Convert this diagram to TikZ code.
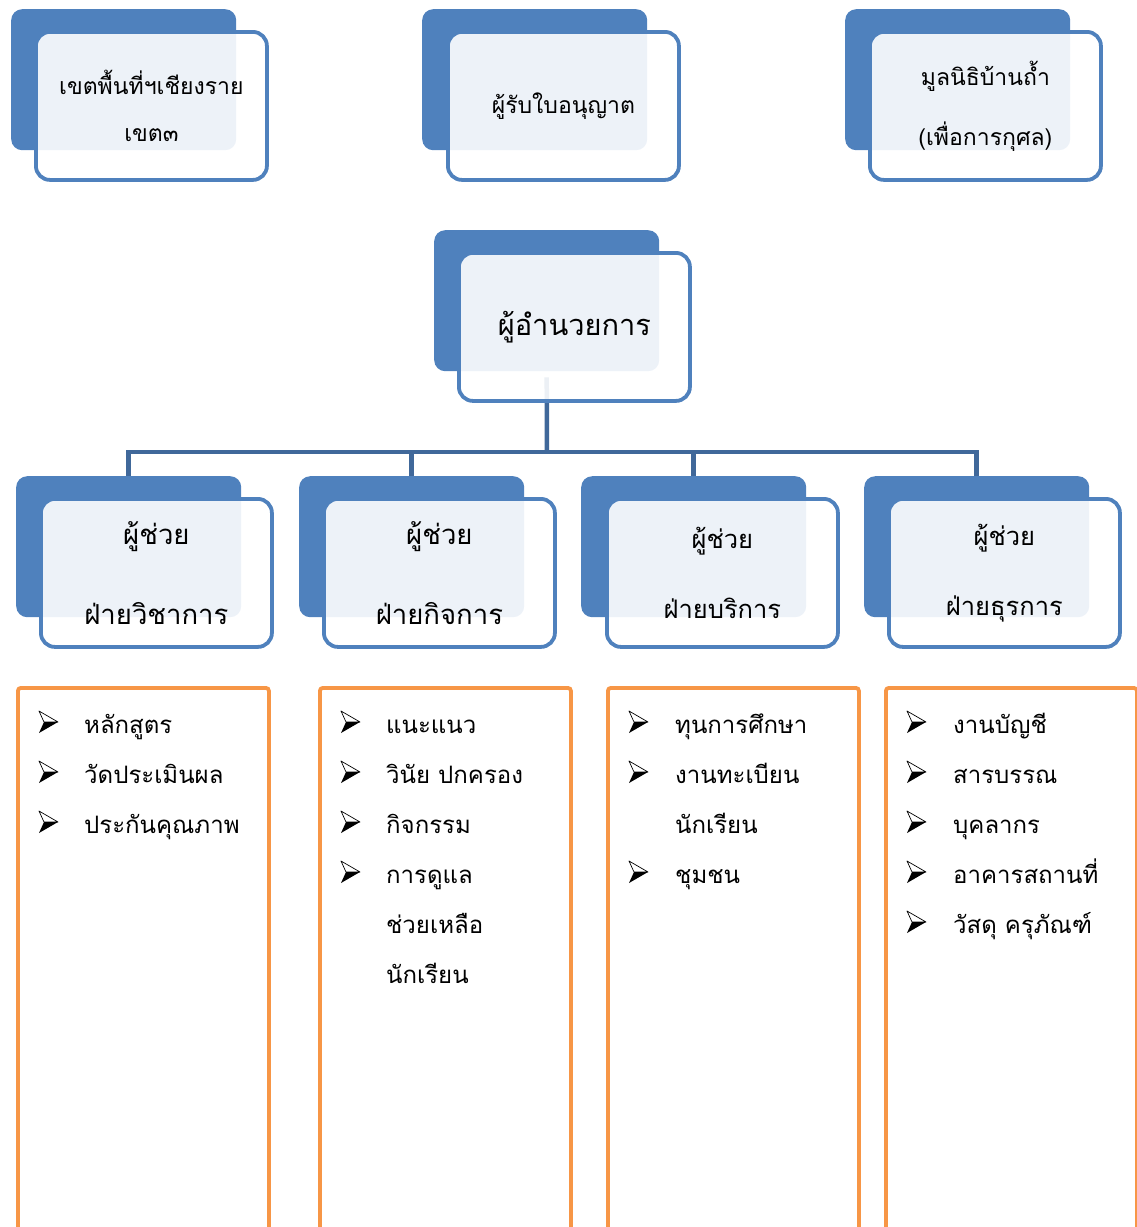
\documentclass[tikz,border=0pt]{standalone}
\usepackage{fontspec}
\newfontfamily\thaifont[Script=Thai]{Loma}
\definecolor{accblue}{HTML}{4F81BD}
\definecolor{linkblue}{HTML}{40689A}
\definecolor{listorange}{HTML}{F79646}

\tikzset{
  backbox/.style={fill=accblue, rounded corners=11pt, anchor=north west, inner sep=0pt,
    minimum width=225pt, minimum height=141pt},
  frontbox/.style={draw=accblue, line width=3.8pt, fill=white, fill opacity=0.9, text opacity=1,
    rounded corners=14pt, anchor=north west, inner sep=0pt, align=center,
    minimum width=231pt, minimum height=148pt},
  listbox/.style={draw=listorange, line width=3.8pt, rounded corners=3pt, anchor=north west,
    minimum width=251pt, minimum height=600pt},
  link/.style={draw=linkblue, line width=4.5pt},
  itemtext/.style={anchor=base west, inner sep=0pt, font=\thaifont\fontsize{24}{28}\selectfont},
  tip3d/.pic={
    \draw[line width=0.7pt, line join=round] (-9,-11) -- (10,0) -- (-4,0) -- cycle;
    \fill[line join=round] (-4,0) -- (10,0) -- (-9,11) -- cycle;
  }
}

\begin{document}
\begin{tikzpicture}[x=1pt,y=-1pt]
\useasboundingbox (0,0) rectangle (1137,1227);

% dark back plates
\node[backbox] (area-back) at (11,9) {};
\node[backbox] (lic-back) at (422,9) {};
\node[backbox] (fund-back) at (845,9) {};
\node[backbox] (dir-back) at (434,230) {};
\foreach \n/\x in {aca/16, act/299, svc/581, gen/864}
  \node[backbox] (\n-back) at (\x,476) {};

% lines from the director down to the four assistants
\coordinate (hub) at (547,452);
\draw[link] (dir-back.south) ++(0,6) -- (hub);
\foreach \n in {aca, act, svc, gen}
  \draw[link] (hub) -| (\n-back.north);

% light front plates with the titles
\node[frontbox, font=\thaifont\fontsize{23}{47}\selectfont] (area) at (34,30) {เขตพื้นที่ฯเชียงราย\\เขต๓};
\node[frontbox, font=\thaifont\fontsize{23}{47}\selectfont] (lic) at (446,30) {ผู้รับใบอนุญาต};
\node[frontbox, font=\thaifont\fontsize{23}{60}\selectfont] (fund) at (868,30) {มูลนิธิบ้านถ้ำ\\(เพื่อการกุศล)};
\node[frontbox, font=\thaifont\fontsize{29}{34}\selectfont] (dir) at (457,251) {ผู้อำนวยการ};

\node[frontbox, font=\thaifont\fontsize{27.5}{80}\selectfont] (aca) at (39,497) {ผู้ช่วย\\ฝ่ายวิชาการ};
\node[frontbox, font=\thaifont\fontsize{27.5}{80}\selectfont] (act) at (322,497) {ผู้ช่วย\\ฝ่ายกิจการ};
\node[frontbox, font=\thaifont\fontsize{25.5}{70}\selectfont] (svc) at (605,497) {ผู้ช่วย\\ฝ่ายบริการ};
\node[frontbox, font=\thaifont\fontsize{25.5}{70}\selectfont] (gen) at (887,497) {ผู้ช่วย\\ฝ่ายธุรการ};

% orange task lists
\foreach \n/\x in {aca/16, act/318, svc/606, gen/884}
  \node[listbox] (\n-list) at (\x,686) {};

\foreach \x/\r in {48/1, 48/2, 48/3,
                   350/1, 350/2, 350/3, 350/4,
                   638/1, 638/2, 638/4,
                   916/1, 916/2, 916/3, 916/4, 916/5}
  \pic at (\x,{722+50*(\r-1)}) {tip3d};

\node[itemtext] (aca-1) at (84,733) {หลักสูตร};
\node[itemtext] (aca-2) at (84,783) {วัดประเมินผล};
\node[itemtext] (aca-3) at (84,833) {ประกันคุณภาพ};

\node[itemtext] (act-1) at (386,733) {แนะแนว};
\node[itemtext] (act-2) at (386,783) {วินัย ปกครอง};
\node[itemtext] (act-3) at (386,833) {กิจกรรม};
\node[itemtext] (act-4) at (386,883) {การดูแล};
\node[itemtext] (act-5) at (386,933) {ช่วยเหลือ};
\node[itemtext] (act-6) at (386,983) {นักเรียน};

\node[itemtext] (svc-1) at (675,733) {ทุนการศึกษา};
\node[itemtext] (svc-2) at (675,783) {งานทะเบียน};
\node[itemtext] (svc-3) at (675,833) {นักเรียน};
\node[itemtext] (svc-4) at (675,883) {ชุมชน};

\node[itemtext] (gen-1) at (953,733) {งานบัญชี};
\node[itemtext] (gen-2) at (953,783) {สารบรรณ};
\node[itemtext] (gen-3) at (953,833) {บุคลากร};
\node[itemtext] (gen-4) at (953,883) {อาคารสถานที่};
\node[itemtext] (gen-5) at (953,933) {วัสดุ ครุภัณฑ์};

\end{tikzpicture}
\end{document}
